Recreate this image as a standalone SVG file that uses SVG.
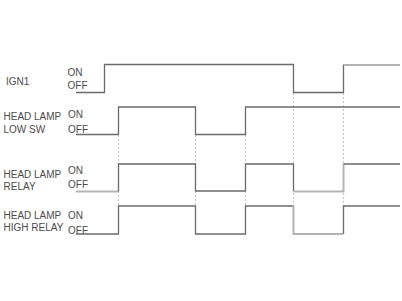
<svg xmlns="http://www.w3.org/2000/svg" width="402" height="301" viewBox="0 0 402 301">
<style>
text{font-family:"Liberation Sans",Arial,sans-serif;font-size:10px;fill:#4a4a4a}
.w{fill:none;stroke:#6a6a6a;stroke-width:1.3}
.l{fill:none;stroke:#b4b4b4;stroke-width:2}
.d{fill:none;stroke:#c4c4c4;stroke-width:1;stroke-dasharray:2,2}
</style>
<rect width="402" height="301" fill="#fff"/>
<g id="connectors">
<path class="d" d="M118.5 135V206M195.5 135V206M245.5 135V206M293.5 93V206M343.5 93V206"/>
</g>
<g id="ign1">
<text x="6" y="85">IGN1</text>
<text x="67.5" y="76">ON</text>
<text x="67.5" y="89">OFF</text>
<path class="w" d="M76 92.5H104.5V64.5H293.5V92.5H343.5V64.5"/>
<path class="l" d="M344 65H400"/>
</g>
<g id="low-sw">
<text x="3.5" y="120">HEAD LAMP</text>
<text x="3.5" y="133">LOW SW</text>
<text x="68" y="118">ON</text>
<text x="68" y="133">OFF</text>
<path class="w" d="M76 134.5H118.5V107H195.5V134.5H245.5V107H400"/>
</g>
<g id="relay">
<text x="3.5" y="178">HEAD LAMP</text>
<text x="3.5" y="190">RELAY</text>
<text x="68" y="174">ON</text>
<text x="68" y="188">OFF</text>
<path class="l" d="M76 191.5H118"/>
<path class="w" d="M118.5 191.5V164H195.5V191H245.5V164H293.5V191.5"/>
<path class="l" d="M293.5 191.5H343.5V164"/>
<path class="w" d="M343.5 164H400"/>
</g>
<g id="high-relay">
<text x="3.5" y="219">HEAD LAMP</text>
<text x="3.5" y="230.5">HIGH RELAY</text>
<text x="68" y="219">ON</text>
<text x="68" y="234">OFF</text>
<path class="w" d="M76 234H118.5V206H195.5V234H245.5V206H293.5"/>
<path class="l" d="M293.5 206V234H343"/>
<path class="w" d="M343.5 234V206H400"/>
</g>
</svg>
